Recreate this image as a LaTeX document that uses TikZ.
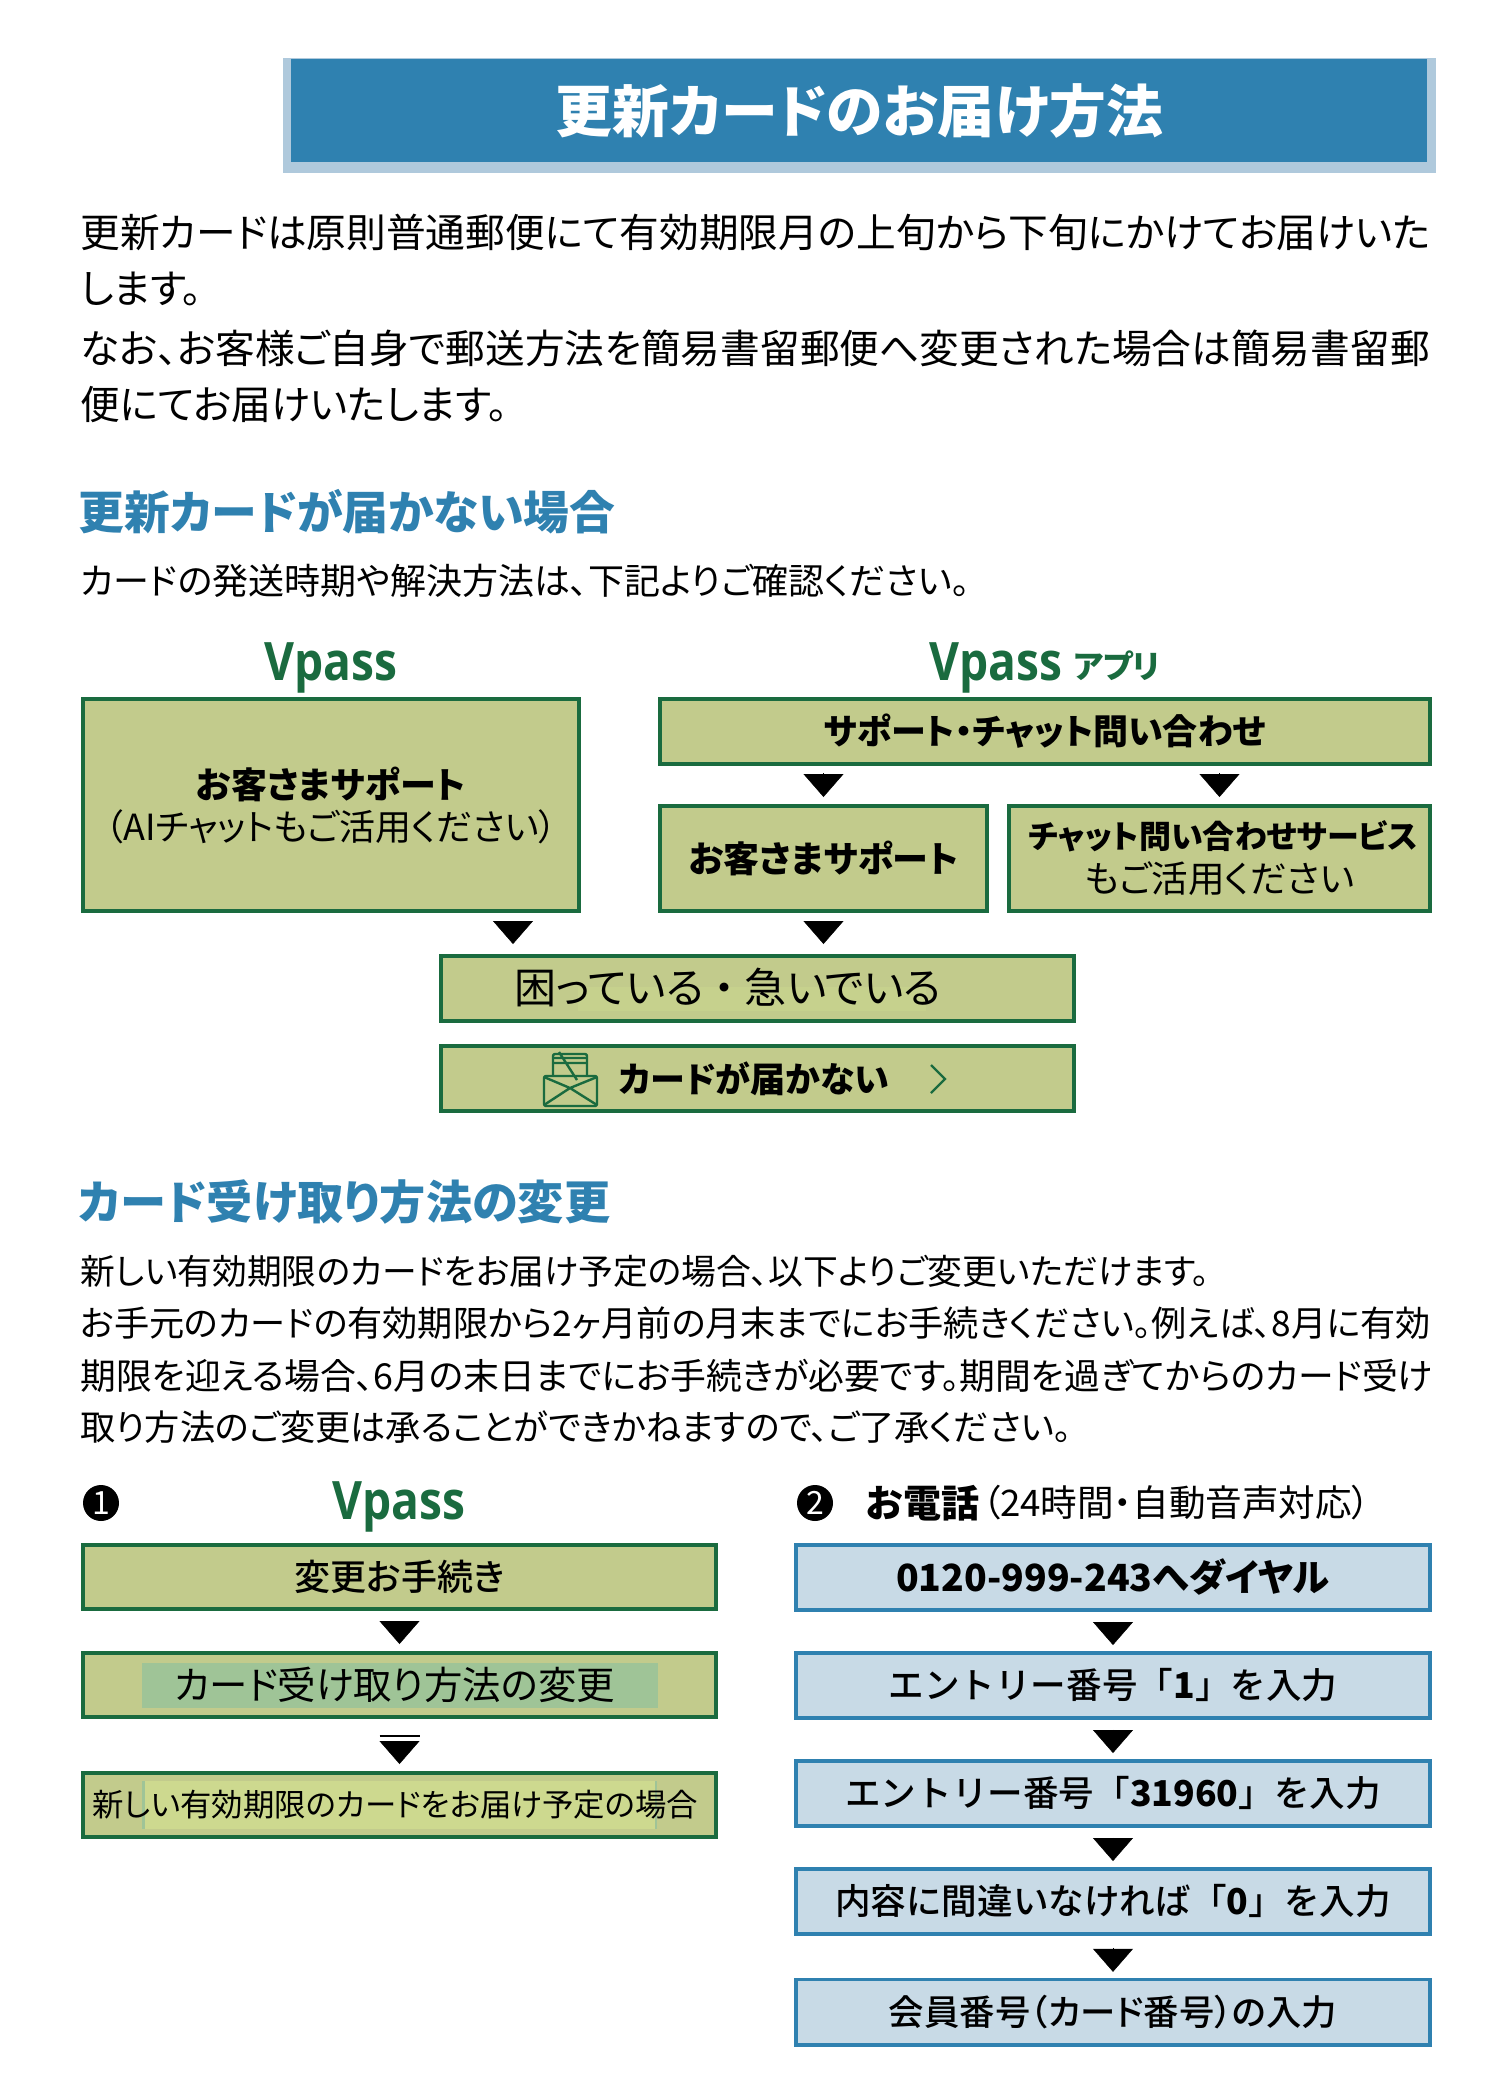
\documentclass[tikz,border=0pt]{standalone}
\usepackage{fontspec}
\setmainfont{Noto Sans CJK JP}[RawFeature=+palt]
\newfontfamily\medfont{Noto Sans CJK JP Medium}[RawFeature=+palt]
\newfontfamily\medfull{Noto Sans CJK JP Medium}
\newfontfamily\logofont{Open Sans}[BoldFont={Open Sans Bold},BoldFeatures={FakeStretch=0.87}]
\usetikzlibrary{arrows.meta,positioning,calc}
\definecolor{leaf}{HTML}{1A6B3F}
\definecolor{moss}{HTML}{C2CB8C}
\definecolor{sky}{HTML}{C8DAE6}
\definecolor{sea}{HTML}{2F81B0}
\definecolor{pale}{HTML}{AFC9DC}
\definecolor{sage}{HTML}{9FC497}
\definecolor{lime}{HTML}{CDD98F}
\newcommand{\fs}[1]{\fontsize{#1}{#1}\selectfont}
\begin{document}
\begin{tikzpicture}[
  x=0.5pt, y=-0.5pt, line cap=butt,
  gbox/.style={draw=leaf, fill=moss, line width=2pt, align=center, inner sep=0pt, font=\medfont\fs{18pt}},
  bbox/.style={draw=sea, fill=sky, line width=1.8pt, align=center, inner sep=0pt, minimum width=317.2pt, minimum height=32.6pt, font=\medfull\fs{17.8pt}},
  lead/.style={anchor=west, inner sep=0pt, font=\fs{19.85pt}},
  note/.style={anchor=west, inner sep=0pt},
  head/.style={anchor=west, inner sep=0pt, text=sea},
  logo/.style={anchor=base, inner sep=0pt, text=leaf, font=\logofont\bfseries\fs{26.5pt}},
  numdot/.style={circle, fill=black, text=white, inner sep=0pt, minimum size=18pt, font=\fs{16pt}},
  patch/.style={inner sep=0pt},
  flow/.style={line width=0.2pt, -{Triangle[width=20pt,length=11.5pt]}, shorten <=3.5pt, shorten >=3.5pt},
  icon/.style={draw=leaf, line width=1.2pt, line join=round}]
\useasboundingbox (0,0) rectangle (1500,2100);
% title bar
\node[fill=pale, anchor=north west, minimum width=576.5pt, minimum height=57.5pt, inner sep=0pt] (titleback) at (283,58) {};
\node[fill=sea, anchor=north west, minimum width=568pt, minimum height=51.5pt, inner sep=0pt, text=white, font=\bfseries\fs{28.4pt}] (title) at (291,59) {更新カードのお届け方法};
% first text block
\node[lead] (lead1) at (80,232) {更新カードは原則普通郵便にて有効期限月の上旬から下旬にかけてお届けいた};
\node[lead] (lead2) at (80,289) {します。};
\node[lead] (lead3) at (80,348) {なお、お客様ご自身で郵送方法を簡易書留郵便へ変更された場合は簡易書留郵};
\node[lead] (lead4) at (80,405) {便にてお届けいたします。};
\node[head, font=\bfseries\fs{22.9pt}] (head1) at (78,512) {更新カードが届かない場合};
\node[note, font=\fs{18pt}] (sub1) at (80,581) {カードの発送時期や解決方法は、下記よりご確認ください。};
\node[logo] (logo1) at (331,680) {Vpass};
\node[logo] (logo2) at (996,680) {Vpass};
\node[anchor=base west, inner sep=0pt, text=leaf, font=\bfseries\fs{16pt}] (logo2app) at (1073,678) {アプリ};
% support flow
\node[gbox, anchor=north west, minimum width=248pt, minimum height=106pt] (webhelp) at (81,697) {\bfseries お客さまサポート\\[3pt]{\normalfont\fs{18pt}（AIチャットもご活用ください）}};
\node[gbox, anchor=north west, minimum width=385pt, minimum height=32.5pt, font=\bfseries\fs{17.5pt}] (appmenu) at (658,697) {サポート・チャット問い合わせ};
\node[gbox, below=19pt of appmenu.south west, anchor=north west, minimum width=163.5pt, minimum height=52.5pt, font=\bfseries\fs{18pt}] (apphelp) {お客さまサポート};
\node[gbox, below=19pt of appmenu.south east, anchor=north east, minimum width=210.5pt, minimum height=52.5pt] (appchat) {{\bfseries\fs{16pt} チャット問い合わせサービス}\\[4pt]{\normalfont\fs{18.3pt}もご活用ください}};
\node[gbox, anchor=north west, minimum width=316.5pt, minimum height=32.5pt] (trouble) at (439,954) {};
\node[patch, fill=moss!60!lime, minimum width=174pt, minimum height=12pt] (troublepatch) at (752,999) {};
\node[inner sep=0pt, font=\fs{21pt}] (troubletext) at (728,988) {困っている\hspace{5pt}・\hspace{5pt}急いでいる};
\node[gbox, below=10.5pt of trouble, minimum width=316.5pt, minimum height=32.5pt] (nocard) {};
\node[inner sep=0pt, font=\bfseries\fs{17.5pt}] (nocardtext) at (754,1079) {カードが届かない};
\coordinate (webout) at (513,913);
\draw[flow] (apphelp.north |- appmenu.south) -- (apphelp.north);
\draw[flow] (appchat.north |- appmenu.south) -- (appchat.north);
\draw[flow, shorten <=4pt, shorten >=5pt] (webout) -- (webout |- trouble.north);
\draw[flow, shorten <=4pt, shorten >=5pt] (apphelp.south) -- (apphelp.south |- trouble.north);
% envelope with card
\draw[icon, rounded corners=1pt] (553,1075) -- (553,1054) -- (587,1054) -- (587,1075);
\draw[icon] (553,1058) -- (587,1058) (553,1063) -- (587,1063) (559,1052) -- (577,1080);
\draw[icon, rounded corners=1pt] (544,1076) rectangle (597,1106);
\draw[icon] (544,1077) -- (570,1088) -- (597,1077) (544,1105) -- (570,1088) -- (597,1105);
\draw[leaf, line width=1.2pt] (931,1065) -- (945,1079) -- (931,1093);
% second text block
\node[head, font=\bfseries\fs{23.1pt}] (head2) at (78,1202) {カード受け取り方法の変更};
\node[note, font=\fs{17.4pt}] (note1) at (80,1271) {新しい有効期限のカードをお届け予定の場合、以下よりご変更いただけます。};
\node[note, font=\fs{17.6pt}] (note2) at (80,1323) {お手元のカードの有効期限から2ヶ月前の月末までにお手続きください。例えば、8月に有効};
\node[note, font=\fs{17.9pt}] (note3) at (80,1376) {期限を迎える場合、6月の末日までにお手続きが必要です。期間を過ぎてからのカード受け};
\node[note, font=\fs{17.6pt}] (note4) at (80,1427) {取り方法のご変更は承ることができかねますので、ご了承ください。};
% web steps
\node[numdot] (dot1) at (101,1503) {1};
\node[logo] (logo3) at (399,1519) {Vpass};
\node[gbox, anchor=north west, minimum width=316.5pt, minimum height=32pt] (change) at (81,1543) {変更お手続き};
\node[gbox, below=20pt of change, minimum width=316.5pt, minimum height=32pt] (method) {};
\node[patch, fill=sage, minimum width=258pt, minimum height=22.5pt] (methodpatch) at (method.center) {};
\node[inner sep=0pt, font=\fs{19.2pt}] (methodtext) at ($(method.center)+(-5,0)$) {カード受け取り方法の変更};
\node[gbox, below=26pt of method, minimum width=316.5pt, minimum height=32pt] (newdate) {};
\node[patch, fill=sage, minimum width=257.5pt, minimum height=24pt] (datestrip) at (newdate.center) {};
\node[patch, fill=lime, minimum width=255pt, minimum height=24pt] (datepatch) at (newdate.center) {};
\node[inner sep=0pt, font=\fs{15.7pt}] (datetext) at ($(newdate.center)+(-4,0)$) {新しい有効期限のカードをお届け予定の場合};
\draw[flow, shorten <=5pt] (change) -- (method);
\draw[flow, shorten <=11pt, shorten >=3.5pt] (method) -- (newdate);
\draw[line width=0.7pt] ($(method.south)+(-20,17)$) -- ++(40,0);
% phone steps
\node[numdot] (dot2) at (815,1503) {2};
\node[anchor=west, inner sep=0pt, font=\bfseries\fs{19pt}] (phone) at (866,1503) {お電話};
\node[anchor=west, inner sep=0pt, font=\fs{18.3pt}, right=1pt of phone] (phonenote) {（24時間・自動音声対応）};
\node[bbox, anchor=north west, font=\bfseries\fs{18.7pt}] (dial) at (794,1543) {0120-999-243へダイヤル};
\node[bbox, below=19.6pt of dial] (entry1) {エントリー番号「\textbf{1}」を入力};
\node[bbox, below=19.6pt of entry1] (entry2) {エントリー番号「\textbf{31960}」を入力};
\node[bbox, below=19.6pt of entry2] (entry3) {内容に間違いなければ「\textbf{0}」を入力};
\node[bbox, below=21pt of entry3, font=\medfont\fs{17.7pt}] (member) {会員番号（カード番号）の入力};
\draw[flow, shorten <=5pt, shorten >=3pt] (dial) -- (entry1);
\draw[flow, shorten <=5pt, shorten >=3pt] (entry1) -- (entry2);
\draw[flow, shorten <=5pt, shorten >=3pt] (entry2) -- (entry3);
\draw[flow, shorten <=6pt, shorten >=3pt] (entry3) -- (member);
\end{tikzpicture}
\end{document}
